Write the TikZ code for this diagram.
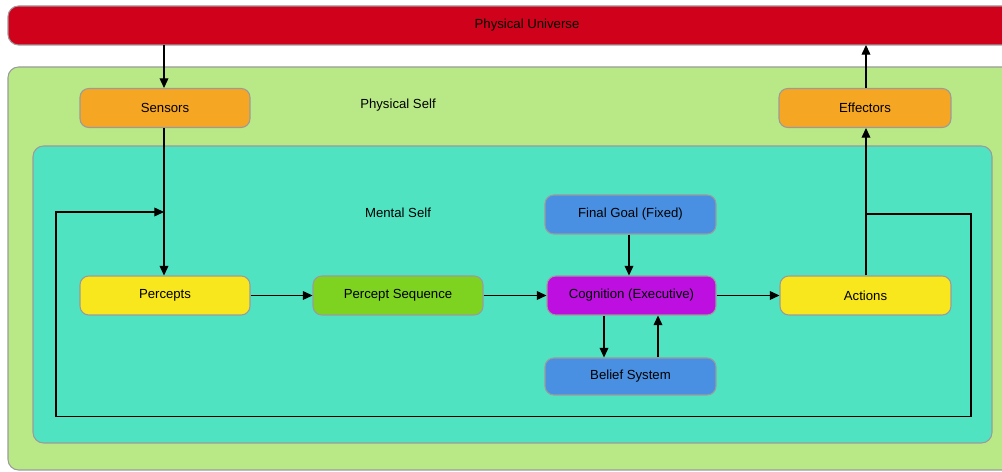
\documentclass[tikz,border=0pt]{standalone}
\usepackage{fontspec}
\setmainfont{Liberation Sans}
\usetikzlibrary{arrows.meta}
\definecolor{cred}{HTML}{D0021B}
\definecolor{clgreen}{HTML}{B8E986}
\definecolor{cteal}{HTML}{50E3C2}
\definecolor{corange}{HTML}{F5A623}
\definecolor{cyellow}{HTML}{F8E71C}
\definecolor{cgreen}{HTML}{7ED321}
\definecolor{cpurple}{HTML}{BD10E0}
\definecolor{cblue}{HTML}{4A90E2}
\definecolor{cborder}{HTML}{9B9B9B}
\tikzset{
  box/.style={draw=cborder, line width=0.6pt, rounded corners=5pt, minimum width=3.4cm, minimum height=0.78cm, inner sep=0pt, font=\fontsize{7.5}{9}\selectfont},
  region/.style={draw=cborder, line width=0.6pt, rounded corners=6pt},
  arr/.style={-{Triangle[length=5.5pt,width=5pt]}, line width=0.6pt},
  ln/.style={line width=0.6pt},
  lbl/.style={font=\fontsize{7.5}{9}\selectfont, inner sep=0pt}
}
\begin{document}
\begin{tikzpicture}[x=0.02cm,y=-0.02cm]
\useasboundingbox (0,0) rectangle (1002,472);
\clip (0,0) rectangle (1002,472);
% regions
\path[region, fill=cred] (8,6) rectangle (1030,45);
\node[lbl] (uni) at (527,25) {Physical Universe};
\coordinate (unibot) at (164,45);
\coordinate (unibot2) at (866,45);
\path[region, fill=clgreen] (8,67) rectangle (1030,470);
\node[lbl] (ps) at (398,105) {Physical Self};
\path[region, fill=cteal] (33,146) rectangle (992,443);
\node[lbl] (ms) at (398,213) {Mental Self};
% boxes
\node[box, fill=corange, minimum width=3.4cm] (sens) at (165,108) {Sensors};
\node[box, fill=corange, minimum width=3.44cm] (eff) at (865,108) {Effectors};
\node[box, fill=cblue, minimum width=3.42cm] (goal) at (630.5,214.5) {Final Goal (Fixed)};
\node[box, fill=cyellow] (perc) at (165,295.5) {Percepts};
\node[box, fill=cgreen] (pseq) at (398,295.5) {Percept Sequence};
\node[box, fill=cpurple, minimum width=3.38cm] (cog) at (631.5,295.5) {Cognition (Executive)};
\node[box, fill=cyellow, minimum width=3.42cm] (act) at (865.5,295.5) {Actions};
\node[box, fill=cblue, minimum width=3.42cm, minimum height=0.74cm] (bel) at (630.5,376.5) {Belief System};
% connectors
\draw[arr] (unibot) -- (sens.north -| unibot);
\draw[arr] (eff.north -| unibot2) -- (unibot2);
\draw[arr] (sens.south -| 164,0) -- (perc.north -| 164,0);
\draw[arr] (perc) -- (pseq);
\draw[arr] (pseq) -- (cog);
\draw[arr] (cog) -- (act);
\draw[arr] (goal.south -| 629,0) -- (cog.north -| 629,0);
\draw[arr] (cog.south -| 604,0) -- (bel.north -| 604,0);
\draw[arr] (bel.north -| 658,0) -- (cog.south -| 658,0);
\draw[arr] (act.north -| 866,0) -- (eff.south -| 866,0);
\coordinate (fb1) at (866,214);
\coordinate (fbend) at (164,212);
\draw[ln] (fb1) -- (971,214) -- (971,416.5) -- (56,416.5) -- (56,212) -- (150,212);
\draw[arr] (150,212) -- (fbend);
\end{tikzpicture}
\end{document}
